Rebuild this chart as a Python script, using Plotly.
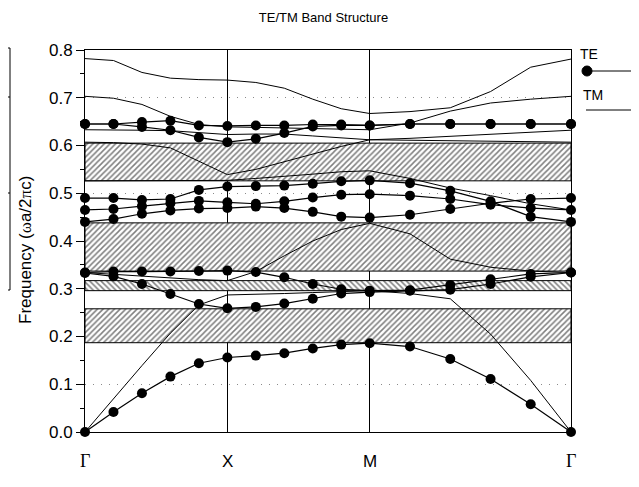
import plotly.graph_objects as go

# ---------------- data ----------------
k_path = [0.0, 0.2, 0.4, 0.6, 0.8, 1.0, 1.2, 1.4, 1.6, 1.8, 2.0,
          2.283, 2.566, 2.849, 3.131, 3.414]
sym_k = [0.0, 1.0, 2.0, 3.414]
sym_labels = ["Γ", "X", "M", "Γ"]

te_bands = [
    [0.000, 0.042, 0.081, 0.116, 0.144, 0.156, 0.160, 0.165, 0.175, 0.183, 0.186, 0.179, 0.153, 0.111, 0.058, 0.000],
    [0.333, 0.326, 0.310, 0.289, 0.268, 0.259, 0.262, 0.269, 0.279, 0.290, 0.293, 0.296, 0.298, 0.310, 0.325, 0.334],
    [0.334, 0.336, 0.336, 0.336, 0.337, 0.338, 0.335, 0.324, 0.310, 0.299, 0.296, 0.297, 0.308, 0.320, 0.331, 0.334],
    [0.440, 0.446, 0.457, 0.464, 0.468, 0.469, 0.472, 0.469, 0.461, 0.451, 0.449, 0.455, 0.467, 0.479, 0.488, 0.490],
    [0.465, 0.467, 0.473, 0.479, 0.484, 0.481, 0.478, 0.483, 0.491, 0.497, 0.498, 0.495, 0.488, 0.476, 0.469, 0.465],
    [0.490, 0.490, 0.486, 0.488, 0.507, 0.514, 0.515, 0.516, 0.520, 0.525, 0.527, 0.521, 0.505, 0.483, 0.451, 0.440],
    [0.645, 0.645, 0.639, 0.632, 0.617, 0.607, 0.614, 0.626, 0.640, 0.642, 0.642, 0.645, 0.645, 0.645, 0.645, 0.645],
    [0.645, 0.645, 0.649, 0.652, 0.642, 0.641, 0.642, 0.642, 0.644, 0.644, 0.642, 0.645, 0.645, 0.645, 0.645, 0.645],
]

tm_bands = [
    [0.000, 0.070, 0.139, 0.207, 0.266, 0.287, 0.288, 0.290, 0.292, 0.294, 0.296, 0.290, 0.279, 0.205, 0.108, 0.000],
    [0.334, 0.330, 0.326, 0.322, 0.319, 0.317, 0.336, 0.369, 0.400, 0.424, 0.437, 0.415, 0.362, 0.345, 0.337, 0.334],
    [0.526, 0.526, 0.526, 0.526, 0.526, 0.527, 0.531, 0.535, 0.540, 0.545, 0.547, 0.531, 0.511, 0.495, 0.478, 0.465],
    [0.607, 0.606, 0.603, 0.595, 0.567, 0.539, 0.550, 0.566, 0.582, 0.598, 0.612, 0.611, 0.609, 0.608, 0.607, 0.607],
    [0.633, 0.633, 0.632, 0.631, 0.627, 0.623, 0.624, 0.624, 0.620, 0.616, 0.612, 0.615, 0.619, 0.623, 0.628, 0.632],
    [0.703, 0.699, 0.686, 0.661, 0.644, 0.639, 0.638, 0.637, 0.636, 0.634, 0.633, 0.647, 0.672, 0.689, 0.697, 0.703],
    [0.782, 0.778, 0.753, 0.741, 0.738, 0.737, 0.732, 0.720, 0.697, 0.677, 0.667, 0.671, 0.679, 0.713, 0.764, 0.781],
]

gap_lo = [0.187, 0.296, 0.337, 0.526]
gap_hi = [0.258, 0.317, 0.438, 0.605]
gap_hatch = ["/", "\\", "/", "/"]

y_ticks = [0.0, 0.1, 0.2, 0.3, 0.4, 0.5, 0.6, 0.7, 0.8]

# ---------------- geometry helpers (page pixels -> paper) ----------------
# the page body has an 8px margin, so the figure starts at page (8, 8)
OFF = 8
W, H = 639 - OFF, 487 - OFF
PLOT_L, PLOT_R, PLOT_T, PLOT_B = 85, 571, 50, 432   # page pixels
ML, MR = PLOT_L - OFF, 639 - PLOT_R
MT, MB = PLOT_T - OFF, 487 - PLOT_B
PW, PH = PLOT_R - PLOT_L, PLOT_B - PLOT_T


def px(x):
    return (x - PLOT_L) / PW


def py(y):
    return (PLOT_B - y) / PH


SANS = "Liberation Sans, Arial, sans-serif"
SERIF = "Liberation Serif, Times New Roman, serif"

fig = go.Figure()

kmin, kmax = k_path[0], k_path[-1]
for lo, hi, hatch in zip(gap_lo, gap_hi, gap_hatch):
    fig.add_trace(go.Scatter(
        x=[kmin, kmax, kmax, kmin, kmin], y=[lo, lo, hi, hi, lo],
        mode="lines", fill="toself", fillcolor="white",
        fillpattern=dict(shape=hatch, fgcolor="black", bgcolor="white",
                         size=4, solidity=0.38),
        line=dict(color="black", width=1), hoverinfo="skip", showlegend=False))

for band in tm_bands:
    fig.add_trace(go.Scatter(x=k_path, y=band, mode="lines",
                             line=dict(color="black", width=1),
                             showlegend=False))

for band in te_bands:
    fig.add_trace(go.Scatter(x=k_path, y=band, mode="lines+markers",
                             line=dict(color="black", width=1.2),
                             marker=dict(color="black", size=10),
                             showlegend=False, cliponaxis=False))

shapes = []
# legend (manual, partly outside the figure like the reference)
shapes.append(dict(type="line", xref="paper", yref="paper",
                   x0=px(587), x1=px(645), y0=py(71), y1=py(71),
                   line=dict(color="black", width=1)))
shapes.append(dict(type="circle", xref="paper", yref="paper",
                   xsizemode="pixel", ysizemode="pixel",
                   xanchor=px(587), yanchor=py(71),
                   x0=-5, x1=5, y0=-5, y1=5,
                   fillcolor="black", line=dict(color="black", width=1)))
shapes.append(dict(type="line", xref="paper", yref="paper",
                   x0=px(586), x1=px(645), y0=py(110), y1=py(110),
                   line=dict(color="black", width=1)))
# fragment of a neighbouring panel at the left edge
shapes.append(dict(type="rect", xref="paper", yref="paper",
                   x0=px(-20), x1=px(10), y0=py(290), y1=py(48),
                   line=dict(color="black", width=1)))
for yy in (97, 193):
    shapes.append(dict(type="line", xref="paper", yref="paper",
                       x0=px(-5), x1=px(10), y0=py(yy), y1=py(yy),
                       line=dict(color="black", width=1)))

annotations = []
for kk, lab in zip(sym_k, sym_labels):
    fam = SERIF if lab == "Γ" else SANS
    annotations.append(dict(x=kk, xref="x", y=py(461), yref="paper",
                            text=lab, showarrow=False,
                            font=dict(family=fam, size=18 if lab == "Γ" else 17, color="black"),
                            xanchor="center", yanchor="middle"))
annotations.append(dict(x=px(589), y=py(54), xref="paper", yref="paper",
                        text="TE", showarrow=False,
                        font=dict(family=SANS, size=14, color="black"),
                        xanchor="center", yanchor="middle"))
annotations.append(dict(x=px(593), y=py(95), xref="paper", yref="paper",
                        text="TM", showarrow=False,
                        font=dict(family=SANS, size=14, color="black"),
                        xanchor="center", yanchor="middle"))
annotations.append(dict(
    x=px(25), y=py(250), xref="paper", yref="paper",
    text="Frequency (<span style=\"font-family:'Liberation Serif'\">ω</span>a/2"
         "<span style=\"font-family:'Liberation Serif'\">π</span>c)",
    showarrow=False, textangle=-90,
    font=dict(family=SANS, size=17, color="black"),
    xanchor="center", yanchor="middle"))

fig.update_layout(
    width=W, height=H,
    margin=dict(l=ML, r=MR, t=MT, b=MB),
    paper_bgcolor="white", plot_bgcolor="white",
    title=dict(text="TE/TM Band Structure", x=px(328), xanchor="center",
               y=1 - (17 - OFF) / H, yanchor="middle",
               font=dict(family=SANS, size=13, color="black")),
    xaxis=dict(range=[kmin, kmax], tickvals=sym_k, showticklabels=False,
               ticks="", showgrid=True, gridcolor="black", gridwidth=1,
               showline=True, mirror=True, linecolor="black", linewidth=1,
               zeroline=False),
    yaxis=dict(range=[y_ticks[0], y_ticks[-1]], tickvals=y_ticks,
               tickformat=".1f", ticks="outside", ticklen=8, tickcolor="black",
               tickfont=dict(family=SANS, size=17, color="black"),
               showgrid=True, gridcolor="#8a8a8a", gridwidth=1,
               griddash="1px,7px",
               minor=dict(dtick=0.05, ticks="outside", ticklen=4,
                          tickcolor="black", showgrid=False),
               showline=True, mirror=True, linecolor="black", linewidth=1,
               zeroline=False),
    shapes=shapes, annotations=annotations,
    showlegend=False,
)

fig.write_html("out.html")
